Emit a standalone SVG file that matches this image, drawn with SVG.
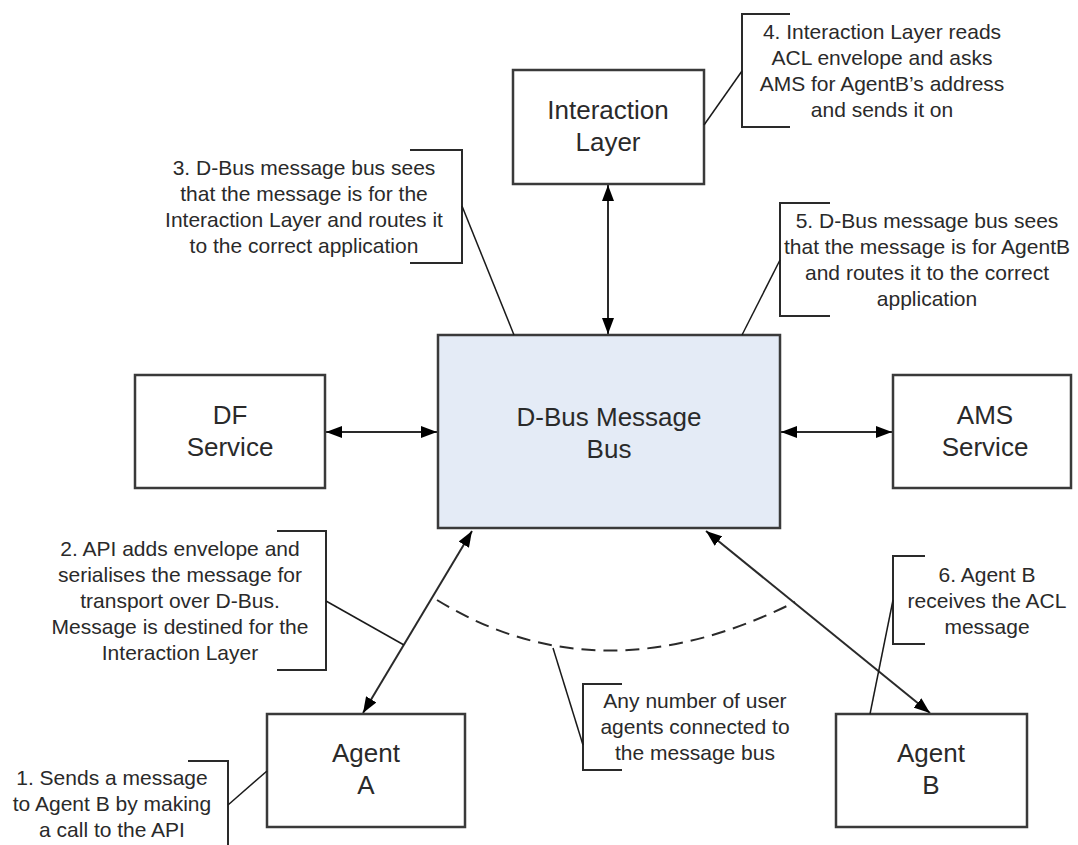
<svg xmlns="http://www.w3.org/2000/svg" width="1078" height="845" viewBox="0 0 1078 845">
  <style>
    .box { fill: #ffffff; stroke: #3a3a3a; stroke-width: 2.5; }
    .bus { fill: #e4ebf6; stroke: #3a3a3a; stroke-width: 2.5; }
    .label { font-family: "Liberation Sans", Arial, sans-serif; font-size: 26px; fill: #2a2a2a; text-anchor: middle; }
    .note { font-family: "Liberation Sans", Arial, sans-serif; font-size: 21px; fill: #2a2a2a; text-anchor: middle; }
    .bracket { fill: none; stroke: #2a2a2a; stroke-width: 2; }
    .leader { fill: none; stroke: #1a1a1a; stroke-width: 1.5; }
    .link { fill: none; stroke: #2a2a2a; stroke-width: 2; marker-start: url(#head); marker-end: url(#head); }
    .dash { fill: none; stroke: #2a2a2a; stroke-width: 2; stroke-dasharray: 14 8; }
  </style>
  <defs>
    <marker id="head" viewBox="0 0 16 12" refX="16" refY="6" markerWidth="16" markerHeight="12" markerUnits="userSpaceOnUse" orient="auto-start-reverse">
      <path d="M0,0 L16,6 L0,12 Z" fill="#000"/>
    </marker>
  </defs>
  <rect width="1078" height="845" fill="#ffffff"/>

  <!-- message paths between components -->
  <g id="connectors">
    <line class="link" x1="608" y1="185" x2="608" y2="334"/>
    <line class="link" x1="326" y1="432" x2="437" y2="432"/>
    <line class="link" x1="781" y1="432" x2="892" y2="432"/>
    <line class="link" x1="472" y1="531" x2="363" y2="713"/>
    <line class="link" x1="706" y1="531" x2="930" y2="713"/>
    <path class="dash" d="M437,600 Q600,700 795,602"/>
  </g>

  <g id="interaction-layer">
    <rect class="box" x="513" y="70" width="191" height="114"/>
    <text class="label" x="608" y="119">Interaction</text>
    <text class="label" x="608" y="151">Layer</text>
  </g>

  <g id="dbus">
    <rect class="bus" x="438" y="335" width="342" height="193"/>
    <text class="label" x="609" y="426">D-Bus Message</text>
    <text class="label" x="609" y="458">Bus</text>
  </g>

  <g id="df-service">
    <rect class="box" x="135" y="375" width="190" height="113"/>
    <text class="label" x="230" y="424">DF</text>
    <text class="label" x="230" y="456">Service</text>
  </g>

  <g id="ams-service">
    <rect class="box" x="893" y="375" width="178" height="113"/>
    <text class="label" x="985" y="424">AMS</text>
    <text class="label" x="985" y="456">Service</text>
  </g>

  <g id="agent-a">
    <rect class="box" x="267" y="714" width="198" height="113"/>
    <text class="label" x="366" y="762">Agent</text>
    <text class="label" x="366" y="794">A</text>
  </g>

  <g id="agent-b">
    <rect class="box" x="836" y="714" width="191" height="113"/>
    <text class="label" x="931" y="762">Agent</text>
    <text class="label" x="931" y="794">B</text>
  </g>

  <!-- annotations -->
  <g id="note-1">
    <path class="bracket" d="M188,761 H228 V846"/>
    <line class="leader" x1="228" y1="805" x2="267" y2="771"/>
    <text class="note" x="112" y="785">1. Sends a message</text>
    <text class="note" x="112" y="811">to Agent B by making</text>
    <text class="note" x="112" y="837">a call to the API</text>
  </g>

  <g id="note-2">
    <path class="bracket" d="M277,531 H326 V670 H277"/>
    <line class="leader" x1="326" y1="601" x2="404" y2="645"/>
    <text class="note" x="180" y="556">2. API adds envelope and</text>
    <text class="note" x="180" y="582">serialises the message for</text>
    <text class="note" x="180" y="608">transport over D-Bus.</text>
    <text class="note" x="180" y="634">Message is destined for the</text>
    <text class="note" x="180" y="660">Interaction Layer</text>
  </g>

  <g id="note-3">
    <path class="bracket" d="M410,150 H462 V263 H410"/>
    <line class="leader" x1="462" y1="206" x2="514" y2="335"/>
    <text class="note" x="304" y="175">3. D-Bus message bus sees</text>
    <text class="note" x="304" y="201">that the message is for the</text>
    <text class="note" x="304" y="227">Interaction Layer and routes it</text>
    <text class="note" x="304" y="253">to the correct application</text>
  </g>

  <g id="note-4">
    <path class="bracket" d="M790,14 H742 V127 H790"/>
    <line class="leader" x1="742" y1="71" x2="704" y2="125"/>
    <text class="note" x="882" y="39">4. Interaction Layer reads</text>
    <text class="note" x="882" y="65">ACL envelope and asks</text>
    <text class="note" x="882" y="91">AMS for AgentB’s address</text>
    <text class="note" x="882" y="117">and sends it on</text>
  </g>

  <g id="note-5">
    <path class="bracket" d="M830,203 H780 V316 H830"/>
    <line class="leader" x1="780" y1="260" x2="742" y2="335"/>
    <text class="note" x="927" y="228">5. D-Bus message bus sees</text>
    <text class="note" x="927" y="254">that the message is for AgentB</text>
    <text class="note" x="927" y="280">and routes it to the correct</text>
    <text class="note" x="927" y="306">application</text>
  </g>

  <g id="note-6">
    <path class="bracket" d="M925,556 H893 V644 H925"/>
    <line class="leader" x1="893" y1="600" x2="870" y2="714"/>
    <text class="note" x="987" y="582">6. Agent B</text>
    <text class="note" x="987" y="608">receives the ACL</text>
    <text class="note" x="987" y="634">message</text>
  </g>

  <g id="note-agents">
    <path class="bracket" d="M622,684 H583 V770 H622"/>
    <line class="leader" x1="553" y1="648" x2="583" y2="745"/>
    <text class="note" x="695" y="708">Any number of user</text>
    <text class="note" x="695" y="734">agents connected to</text>
    <text class="note" x="695" y="760">the message bus</text>
  </g>
</svg>
